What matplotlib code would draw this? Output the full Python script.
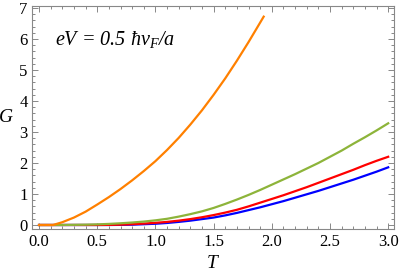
import matplotlib
matplotlib.use("Agg")
import matplotlib.pyplot as plt
from matplotlib.ticker import MultipleLocator, FormatStrFormatter

plt.rcParams['font.family'] = ['Liberation Serif', 'DejaVu Serif']
plt.rcParams['mathtext.fontset'] = 'custom'
plt.rcParams['mathtext.rm'] = 'Liberation Serif'
plt.rcParams['mathtext.it'] = 'Liberation Serif:italic'

# values
T_orange = [0.0, 0.12, 0.2, 0.3, 0.4, 0.5, 0.6, 0.7, 0.8, 0.9, 1.0, 1.1, 1.2, 1.3,
            1.4, 1.5, 1.6, 1.7, 1.8, 1.9, 1.93]
G_orange = [0.0, 0.0, 0.09, 0.24, 0.43, 0.66, 0.9, 1.16, 1.44, 1.74, 2.06, 2.42, 2.81,
            3.24, 3.70, 4.20, 4.73, 5.30, 5.90, 6.53, 6.72]

T = [0.0, 0.1, 0.2, 0.3, 0.4, 0.5, 0.6, 0.7, 0.8, 0.9, 1.0, 1.1, 1.2, 1.3, 1.4, 1.5,
     1.6, 1.7, 1.8, 1.9, 2.0, 2.1, 2.2, 2.3, 2.4, 2.5, 2.6, 2.7, 2.8, 2.9, 3.0]
G_green = [0, 0, 0, 0.005, 0.01, 0.02, 0.035, 0.055, 0.08, 0.11, 0.15, 0.2, 0.27, 0.35,
           0.44, 0.55, 0.68, 0.82, 0.97, 1.13, 1.3, 1.47, 1.64, 1.82, 2.0, 2.2, 2.4,
           2.62, 2.83, 3.05, 3.28]
G_red = [0, 0, 0, 0, 0, 0, 0.003, 0.01, 0.025, 0.045, 0.07, 0.1, 0.14, 0.19, 0.25, 0.32,
         0.4, 0.49, 0.6, 0.72, 0.84, 0.96, 1.09, 1.22, 1.36, 1.5, 1.64, 1.78, 1.93,
         2.07, 2.2]
G_blue = [0, 0, 0, 0, 0, 0, 0, 0.004, 0.01, 0.025, 0.04, 0.065, 0.1, 0.14, 0.19, 0.24,
          0.31, 0.39, 0.48, 0.57, 0.67, 0.77, 0.88, 0.99, 1.1, 1.22, 1.34, 1.46, 1.59,
          1.72, 1.86]

fig = plt.figure(figsize=(3.99, 2.78), dpi=100)
ax = fig.add_axes([0.0795, 0.1745, 0.908, 0.8035])

lw = 1.6
ax.plot(T, G_blue, color='#0000ff', lw=lw)
ax.plot(T, G_red, color='#ff0000', lw=lw)
ax.plot(T, G_green, color='#8db43a', lw=lw)
ax.plot(T_orange, G_orange, color='#ff8000', lw=lw)

ax.set_xlim(-0.063, 3.05)
ax.set_ylim(-0.145, 7.06)
ax.xaxis.set_major_locator(MultipleLocator(0.5))
ax.xaxis.set_minor_locator(MultipleLocator(0.1))
ax.yaxis.set_major_locator(MultipleLocator(1))
ax.yaxis.set_minor_locator(MultipleLocator(0.2))
ax.xaxis.set_major_formatter(FormatStrFormatter('%.1f'))

for s in ax.spines.values():
    s.set_color('#888888')
    s.set_linewidth(0.8)
ax.tick_params(which='both', direction='in', top=True, right=True, color='#888888',
               labelsize=12, width=0.7)
ax.tick_params(which='major', length=4, pad=3)
ax.tick_params(which='minor', length=2)

ax.set_ylabel('G', rotation=0, fontsize=14, fontstyle='italic', va='center', ha='center')
ax.yaxis.set_label_coords(-0.071, 0.503)
ax.set_xlabel('T', fontsize=14, fontstyle='italic', va='center', ha='center')
ax.xaxis.set_label_coords(0.498, -0.154)

ax.text(0.14, 5.98, 'eV = 0.5 \u0127$v_F$/a', fontsize=14.5, fontstyle='italic',
        va='center', ha='left')

fig.savefig('out.png', dpi=100)
